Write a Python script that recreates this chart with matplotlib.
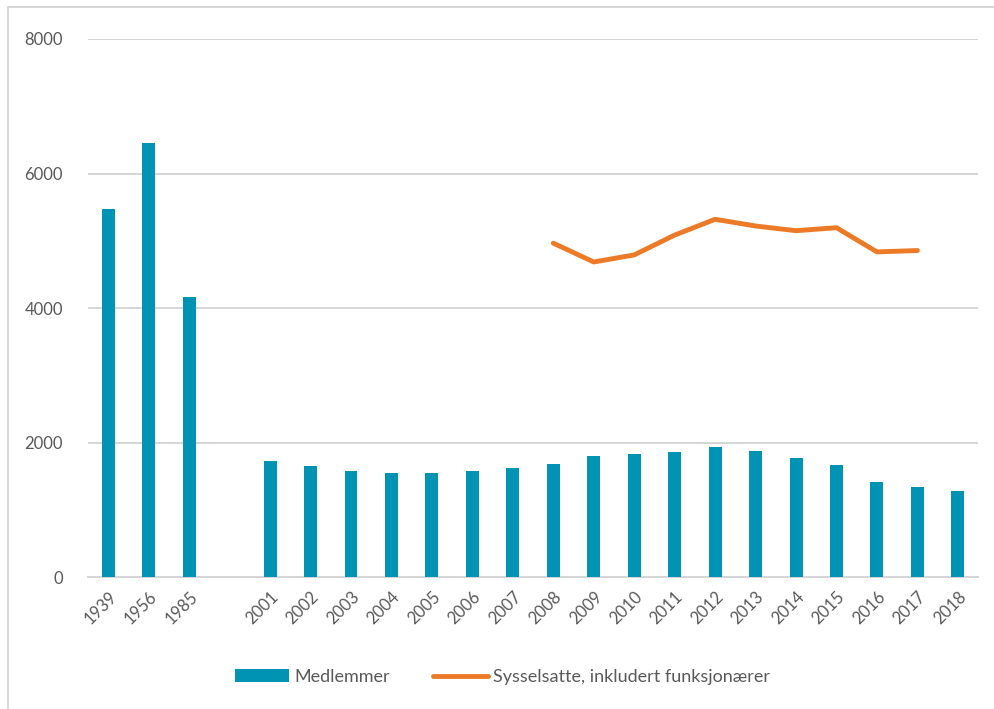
import numpy as np
import matplotlib.pyplot as plt
from matplotlib.patches import Rectangle

plt.rcParams['font.family'] = ['Lato', 'DejaVu Sans']

years = ['1939', '1956', '1985', '', '2001', '2002', '2003', '2004', '2005', '2006',
         '2007', '2008', '2009', '2010', '2011', '2012', '2013', '2014', '2015',
         '2016', '2017', '2018']
medlemmer = [5470, 6450, 4160, np.nan, 1730, 1650, 1575, 1545, 1550, 1575,
             1625, 1680, 1805, 1825, 1860, 1930, 1870, 1765, 1660,
             1415, 1340, 1285]
syss_years = ['2008', '2009', '2010', '2011', '2012', '2013', '2014', '2015', '2016', '2017']
sysselsatte = [4965, 4685, 4790, 5085, 5320, 5220, 5150, 5195, 4835, 4855]

teal = '#0093B3'
orange = '#EC7A26'
grey = '#595959'

fig = plt.figure(figsize=(9.95, 7.09), dpi=100)
ax = fig.add_axes([0.0885, 0.186, 0.8945, 0.759])

x = np.arange(len(years))
bars = ax.bar(x, medlemmer, width=0.32, color=teal, label='Medlemmer', zorder=3)
xs = [years.index(y) for y in syss_years]
line, = ax.plot(xs, sysselsatte, color=orange, lw=3.5, solid_capstyle='round',
                label='Sysselsatte, inkludert funksjonærer', zorder=4)

ax.set_xlim(-0.5, len(years) - 0.5)
ax.set_ylim(0, 8000)
ax.set_yticks([0, 2000, 4000, 6000, 8000])
ax.yaxis.grid(True, color='#d5d5d5', lw=1.4, zorder=0)
ax.set_xticks(x)
ax.set_xticklabels(years, rotation=45, ha='right', rotation_mode='anchor')
ax.tick_params(axis='both', length=0, labelsize=12, colors=grey, pad=8)
ax.tick_params(axis='y', pad=18)
for s in ['top', 'right', 'left']:
    ax.spines[s].set_visible(False)
ax.spines['bottom'].set_color('#d5d5d5')
ax.spines['bottom'].set_linewidth(1.4)

fig.legend([bars, line], ['Medlemmer', 'Sysselsatte, inkludert funksjonærer'],
           loc='center', bbox_to_anchor=(0.505, 0.045), ncol=2, frameon=False,
           fontsize=13, labelcolor=grey, handlelength=3.0, handletextpad=0.3,
           columnspacing=2.4)

fig.patches.append(Rectangle((0.008, -0.01), 1.1, 1.0, transform=fig.transFigure,
                             fill=False, edgecolor='#d0d0d0', lw=1.2))

fig.savefig('out.png', dpi=100)
